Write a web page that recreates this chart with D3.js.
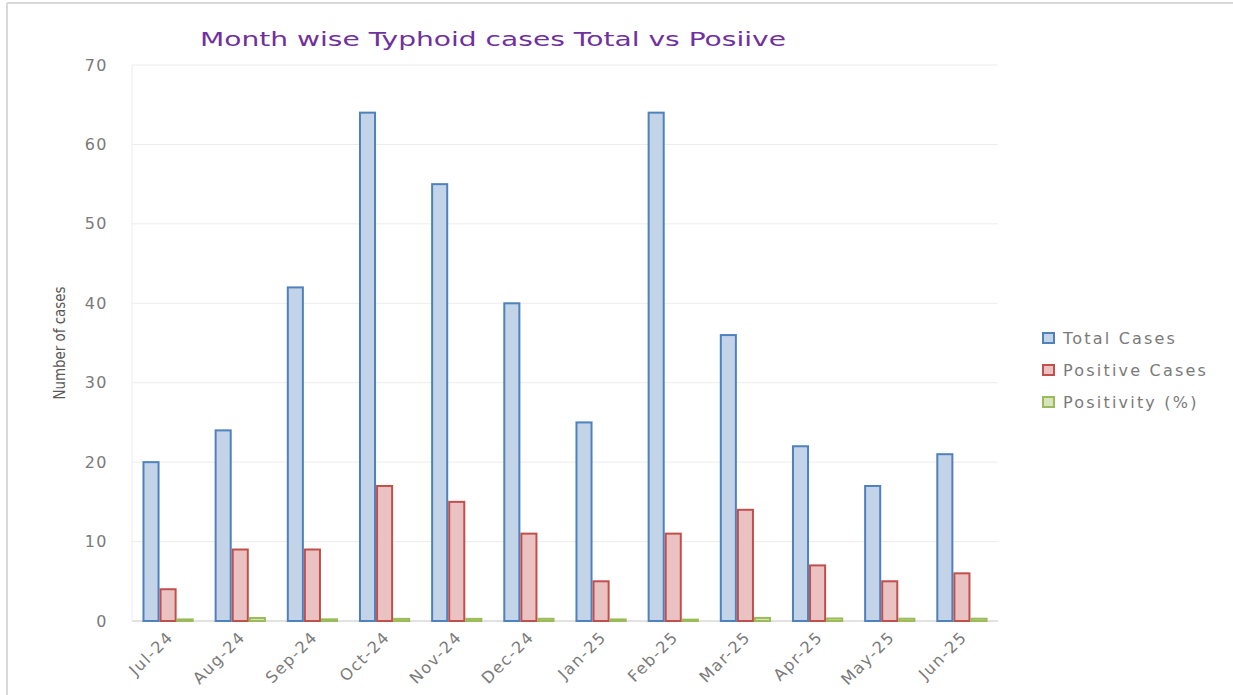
<!DOCTYPE html>
<html>
<head>
<meta charset="utf-8">
<script src="https://cdn.jsdelivr.net/npm/d3@7"></script>
<style>
  body { margin: 0; background: #fff; }
  text { font-family: "DejaVu Sans", sans-serif; }
</style>
</head>
<body>
<div id="chart"></div>
<script>
// data
var months = ["Jul-24", "Aug-24", "Sep-24", "Oct-24", "Nov-24", "Dec-24",
              "Jan-25", "Feb-25", "Mar-25", "Apr-25", "May-25", "Jun-25"];
var totalCases = [20, 24, 42, 64, 55, 40, 25, 64, 36, 22, 17, 21];
var positiveCases = [4, 9, 9, 17, 15, 11, 5, 11, 14, 7, 5, 6];
var positivity = [0.2, 0.38, 0.21, 0.27, 0.27, 0.28, 0.2, 0.17, 0.39, 0.32, 0.29, 0.29];
var yTicks = [0, 10, 20, 30, 40, 50, 60, 70];

var seriesNames = ["Total Cases", "Positive Cases", "Positivity (%)"];
var fills = ["#c3d3e8", "#ebc2c2", "#d7e4bd"];
var strokes = ["#4f81bd", "#c0504d", "#9bbb59"];

var W = 1233, H = 695;
var margin = { top: 65, right: 235, bottom: 74, left: 132 };
var width = W - margin.left - margin.right;
var height = H - margin.top - margin.bottom;
var labelColor = "#7a7a7a";

var svg = d3.select("#chart").append("svg")
    .attr("width", W)
    .attr("height", H);

// outer frame (only top & left visible in the picture)
svg.append("line").attr("x1", 7).attr("x2", 7).attr("y1", 3).attr("y2", H)
  .attr("stroke", "#d9d9d9").attr("stroke-width", 2);
svg.append("line").attr("x1", 7).attr("x2", W).attr("y1", 3).attr("y2", 3)
  .attr("stroke", "#d9d9d9").attr("stroke-width", 2);

var g = svg.append("g")
    .attr("transform", "translate(" + margin.left + "," + margin.top + ")");

var x0 = d3.scaleBand().domain(months).range([0, width]).paddingInner(0.29).paddingOuter(0.145);
var x1 = d3.scaleBand().domain(seriesNames).range([0, x0.bandwidth()]);
var y = d3.scaleLinear().domain([0, 70]).range([height, 0]);

// gridlines
g.selectAll(".grid").data(yTicks).enter().append("line")
  .attr("x1", 0).attr("x2", width)
  .attr("y1", function(d) { return y(d); })
  .attr("y2", function(d) { return y(d); })
  .attr("stroke", function(d) { return d === 0 ? "#d9d9d9" : "#ececec"; })
  .attr("stroke-width", function(d) { return d === 0 ? 1.5 : 1; });

g.append("line").attr("x1", 0).attr("x2", 0).attr("y1", 0).attr("y2", height)
  .attr("stroke", "#ececec");

// y axis
var yAxis = d3.axisLeft(y).tickValues(yTicks).tickSize(0).tickPadding(24);
var ya = g.append("g").call(yAxis);
ya.select(".domain").remove();
ya.selectAll("text").attr("fill", labelColor).style("font-size", "16px")
  .style("letter-spacing", "1.5px")
  .style("font-family", "'DejaVu Sans', sans-serif");

// x axis
var xAxis = d3.axisBottom(x0).tickSize(0).tickPadding(0);
var xa = g.append("g").attr("transform", "translate(0," + height + ")").call(xAxis);
xa.select(".domain").remove();
xa.selectAll("text")
  .attr("fill", labelColor).style("font-size", "16px")
  .style("letter-spacing", "1.5px")
  .style("font-family", "'DejaVu Sans', sans-serif")
  .style("text-anchor", "end")
  .attr("y", 0).attr("dx", 0).attr("dy", "0.8em")
  .attr("transform", "translate(-3,8) rotate(-45)");

// bars
var rows = months.map(function(m, i) {
  return { month: m, vals: [totalCases[i], positiveCases[i], positivity[i]] };
});

var groups = g.selectAll(".grp").data(rows).enter().append("g")
  .attr("transform", function(d) { return "translate(" + x0(d.month) + ",0)"; });

groups.selectAll("rect")
  .data(function(d) { return d.vals.map(function(v, k) { return { k: k, v: v }; }); })
  .enter().append("rect")
  .attr("x", function(d) { return x1(seriesNames[d.k]) + 1; })
  .attr("width", x1.bandwidth() - 2)
  .attr("y", function(d) { return y(d.v); })
  .attr("height", function(d) { return height - y(d.v); })
  .attr("fill", function(d) { return fills[d.k]; })
  .attr("stroke", function(d) { return strokes[d.k]; })
  .attr("stroke-width", 2);

// title
svg.append("text")
  .attr("x", 200).attr("y", 46)
  .attr("fill", "#7030a0")
  .style("font-size", "19px")
  .attr("textLength", 586)
  .attr("lengthAdjust", "spacingAndGlyphs")
  .text("Month wise Typhoid cases Total vs Posiive");

// y axis title
svg.append("text")
  .attr("transform", "translate(65,343) rotate(-90)")
  .attr("text-anchor", "middle")
  .attr("fill", "#595959")
  .style("font-size", "15px")
  .attr("textLength", 113)
  .attr("lengthAdjust", "spacingAndGlyphs")
  .text("Number of cases");

// legend
var legend = svg.selectAll(".leg").data(seriesNames).enter().append("g")
  .attr("transform", function(d, i) { return "translate(1043," + (338 + i * 32) + ")"; });
legend.append("rect")
  .attr("x", 0).attr("y", -5).attr("width", 11).attr("height", 10)
  .attr("fill", function(d, i) { return fills[i]; })
  .attr("stroke", function(d, i) { return strokes[i]; })
  .attr("stroke-width", 2);
legend.append("text")
  .attr("x", 20).attr("y", 0).attr("dy", "0.35em")
  .attr("fill", labelColor)
  .style("font-size", "16px")
  .style("letter-spacing", "2.2px")
  .text(function(d) { return d; });
</script>
</body>
</html>
